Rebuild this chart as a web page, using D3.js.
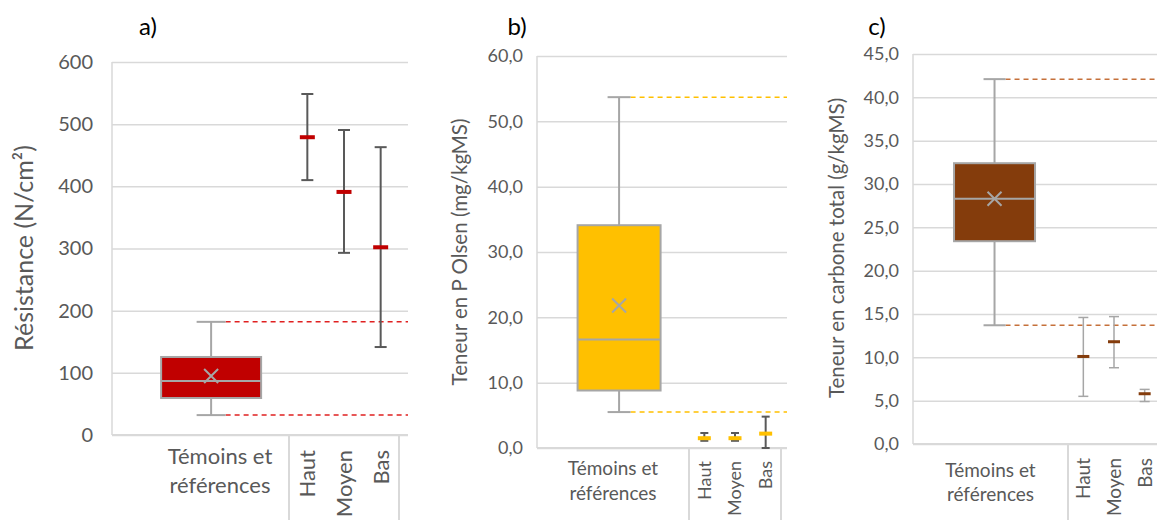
<!DOCTYPE html>
<html>
<head>
<meta charset="utf-8">
<script src="https://cdn.jsdelivr.net/npm/d3@7"></script>
<style>
  body { margin: 0; background: #fff; }
  text { font-family: Lato, "Open Sans", sans-serif; }
</style>
</head>
<body>
<div id="chart"></div>
<script>
// chart data, one entry per panel (a, b, c)
var panelLabels = ["a)", "b)", "c)"];
var yTitles = ["Résistance (N/cm²)", "Teneur en P Olsen (mg/kgMS)", "Teneur en carbone total (g/kgMS)"];
var yMax = [600, 60, 45];
var yStep = [100, 10, 5];
var refCategory = ["Témoins et", "références"];
var sites = ["Haut", "Moyen", "Bas"];

// reference box plots (témoins et références)
var refMin = [32, 5.5, 13.7];
var refQ1 = [59.5, 8.8, 23.4];
var refMedian = [87, 16.6, 28.3];
var refQ3 = [125.5, 34.1, 32.4];
var refMax = [182, 53.7, 42.1];
var refMean = [95, 21.8, 28.3];

// sites : mean, low, high
var siteMean = [[479, 391, 302], [1.5, 1.5, 2.2], [10.1, 11.8, 5.8]];
var siteLow = [[410, 293, 141.5], [1.1, 1.1, 0], [5.5, 8.8, 4.9]];
var siteHigh = [[548.5, 490.6, 463], [2.3, 2.3, 4.8], [14.6, 14.7, 6.3]];

// colours
var fills = ["#C00000", "#FFC000", "#843C0C"];
var dashColors = ["#E02020", "#FFC000", "#C5703A"];

// layout of each panel
var layout = [
	{left: 112, right: 408, top: 62, bottom: 435, divider: 289, groupEnd: 399,
	 boxW: 100, capW: 29, boxPos: 0.56, labelPos: 0.61, tickFont: 20, tickPad: 19,
	 titleX: 24, titleY: 248, titleFont: 25, catFont: 22, catY: 464, catDy: 29, siteFont: 22, siteY: 450,
	 labelX: 148, errColor: "#595959", errW: 2, errCap: 12, meanW: 15, meanH: 4, format: "d"},
	{left: 537, right: 787, top: 56, bottom: 448, divider: 689, groupEnd: 781,
	 boxW: 83, capW: 23, boxPos: 0.54, labelPos: 0.5, tickFont: 18, tickPad: 14,
	 titleX: 460, titleY: 252, titleFont: 20.5, catFont: 19, catY: 475, catDy: 25, siteFont: 18, siteY: 461,
	 labelX: 517, errColor: "#595959", errW: 2, errCap: 8, meanW: 13, meanH: 4, format: ".1f"},
	{left: 913, right: 1160, top: 54, bottom: 444, divider: 1068, groupEnd: 1160,
	 boxW: 81, capW: 22, boxPos: 0.526, labelPos: 0.5, tickFont: 18, tickPad: 14,
	 titleX: 837, titleY: 248, titleFont: 20.5, catFont: 19, catY: 477, catDy: 24, siteFont: 19, siteY: 458,
	 labelX: 877, errColor: "#A6A6A6", errW: 1.5, errCap: 10, meanW: 12, meanH: 3, format: ".1f"}
];

var width = 1157;
var height = 520;
var gridColor = "#D9D9D9";
var boxLine = "#A6A6A6";

var frLocale = d3.formatLocale({decimal: ",", thousands: " ", grouping: [3], currency: ["", " €"]});

var svg = d3.select("#chart")
	.append("svg")
	.attr("width", width)
	.attr("height", height);

// function to draw one panel
function drawPanel(p) {
	var L = layout[p];
	var g = svg.append("g");

	var y = d3.scaleLinear()
		.domain([0, yMax[p]])
		.range([L.bottom, L.top]);

	var xRef = d3.scaleBand()
		.domain(["ref"])
		.range([L.left, L.divider]);
	var xSite = d3.scaleBand()
		.domain(sites)
		.range([L.divider, L.groupEnd]);

	// gridlines and tick labels
	var yAxis = d3.axisLeft(y)
		.tickValues(d3.range(0, yMax[p] + yStep[p] / 2, yStep[p]))
		.tickSize(-(L.right - L.left))
		.tickPadding(L.tickPad)
		.tickFormat(frLocale.format(L.format));

	var axisG = g.append("g")
		.attr("transform", "translate(" + L.left + ",0)")
		.call(yAxis);
	axisG.select(".domain").remove();
	axisG.selectAll(".tick line")
		.attr("stroke", gridColor)
		.attr("stroke-width", 1.5);
	axisG.selectAll(".tick text")
		.attr("fill", "#595959")
		.style("font-size", L.tickFont + "px")
		.style("font-family", "Lato, sans-serif");

	// left axis line, bottom line and category dividers
	g.append("line")
		.attr("x1", L.left).attr("x2", L.left)
		.attr("y1", L.top).attr("y2", L.bottom)
		.attr("stroke", gridColor).attr("stroke-width", 1.5);
	g.append("line")
		.attr("x1", L.left).attr("x2", L.right)
		.attr("y1", L.bottom).attr("y2", L.bottom)
		.attr("stroke", gridColor).attr("stroke-width", 2);
	[L.divider, L.groupEnd].forEach(function(dx) {
		g.append("line")
			.attr("x1", dx).attr("x2", dx)
			.attr("y1", L.bottom).attr("y2", height)
			.attr("stroke", gridColor).attr("stroke-width", 2);
	});

	// reference box plot
	var cx = xRef("ref") + xRef.bandwidth() * L.boxPos;

	// dashed lines at the reference extremes
	[refMax[p], refMin[p]].forEach(function(v) {
		g.append("line")
			.attr("x1", cx + L.capW / 2).attr("x2", L.right)
			.attr("y1", y(v)).attr("y2", y(v))
			.attr("stroke", dashColors[p])
			.attr("stroke-width", 1.5)
			.attr("stroke-dasharray", "5,4");
	});

	// whiskers
	g.append("line")
		.attr("x1", cx).attr("x2", cx)
		.attr("y1", y(refMax[p])).attr("y2", y(refQ3[p]))
		.attr("stroke", boxLine).attr("stroke-width", 2);
	g.append("line")
		.attr("x1", cx).attr("x2", cx)
		.attr("y1", y(refQ1[p])).attr("y2", y(refMin[p]))
		.attr("stroke", boxLine).attr("stroke-width", 2);
	[refMax[p], refMin[p]].forEach(function(v) {
		g.append("line")
			.attr("x1", cx - L.capW / 2).attr("x2", cx + L.capW / 2)
			.attr("y1", y(v)).attr("y2", y(v))
			.attr("stroke", boxLine).attr("stroke-width", 2);
	});

	// box
	g.append("rect")
		.attr("x", cx - L.boxW / 2)
		.attr("y", y(refQ3[p]))
		.attr("width", L.boxW)
		.attr("height", y(refQ1[p]) - y(refQ3[p]))
		.attr("fill", fills[p])
		.attr("stroke", boxLine)
		.attr("stroke-width", 2);
	g.append("line")
		.attr("x1", cx - L.boxW / 2).attr("x2", cx + L.boxW / 2)
		.attr("y1", y(refMedian[p])).attr("y2", y(refMedian[p]))
		.attr("stroke", boxLine).attr("stroke-width", 2);

	// mean cross
	var m = 7;
	var my = y(refMean[p]);
	g.append("path")
		.attr("d", "M" + (cx - m) + "," + (my - m) + "L" + (cx + m) + "," + (my + m) +
			"M" + (cx - m) + "," + (my + m) + "L" + (cx + m) + "," + (my - m))
		.attr("stroke", boxLine).attr("stroke-width", 2).attr("fill", "none");

	// sites : error bars with mean
	sites.forEach(function(s, i) {
		var sx = xSite(s) + xSite.bandwidth() / 2;
		g.append("line")
			.attr("x1", sx).attr("x2", sx)
			.attr("y1", y(siteHigh[p][i])).attr("y2", y(siteLow[p][i]))
			.attr("stroke", L.errColor).attr("stroke-width", L.errW);
		[siteHigh[p][i], siteLow[p][i]].forEach(function(v) {
			g.append("line")
				.attr("x1", sx - L.errCap / 2).attr("x2", sx + L.errCap / 2)
				.attr("y1", y(v)).attr("y2", y(v))
				.attr("stroke", L.errColor).attr("stroke-width", L.errW);
		});
		g.append("rect")
			.attr("x", sx - L.meanW / 2)
			.attr("y", y(siteMean[p][i]) - L.meanH / 2)
			.attr("width", L.meanW)
			.attr("height", L.meanH)
			.attr("fill", fills[p]);

		// rotated site labels
		g.append("text")
			.attr("transform", "translate(" + (sx + L.siteFont * 0.36) + "," + L.siteY + ") rotate(-90)")
			.style("text-anchor", "end")
			.style("font-size", L.siteFont + "px")
			.attr("fill", "#595959")
			.text(s);
	});

	// reference category label
	var lx = xRef("ref") + xRef.bandwidth() * L.labelPos;
	refCategory.forEach(function(t, i) {
		g.append("text")
			.attr("x", lx)
			.attr("y", L.catY + i * L.catDy)
			.style("text-anchor", "middle")
			.style("font-size", L.catFont + "px")
			.attr("fill", "#595959")
			.text(t);
	});

	// axis title
	g.append("text")
		.attr("transform", "translate(" + L.titleX + "," + L.titleY + ") rotate(-90)")
		.attr("dy", "0.35em")
		.style("text-anchor", "middle")
		.style("font-size", L.titleFont + "px")
		.attr("fill", "#595959")
		.text(yTitles[p]);

	// panel label
	g.append("text")
		.attr("x", L.labelX)
		.attr("y", 35)
		.style("text-anchor", "middle")
		.style("font-size", "24px")
		.attr("fill", "#000")
		.text(panelLabels[p]);
}

for (var p = 0; p < 3; p++) {
	drawPanel(p);
}
</script>
</body>
</html>
